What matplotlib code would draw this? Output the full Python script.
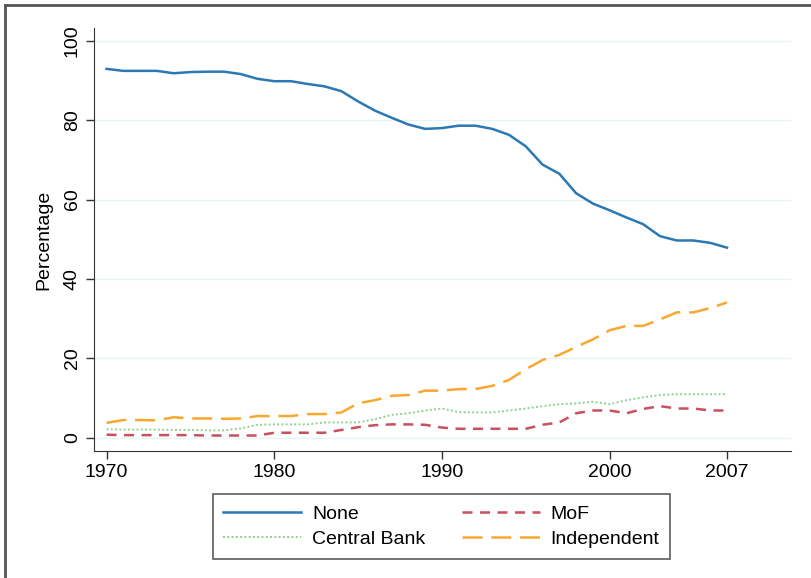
import numpy as np
import matplotlib.pyplot as plt
from matplotlib.lines import Line2D

# Datos (porcentaje por año)
years = np.arange(1970, 2008)
none_vals = [92.9, 92.4, 92.4, 92.4, 91.8, 92.1, 92.2, 92.2, 91.6, 90.4,
             89.8, 89.8, 89.1, 88.5, 87.3, 84.7, 82.4, 80.6, 78.9, 77.8,
             78.0, 78.6, 78.6, 77.8, 76.3, 73.4, 68.8, 66.5, 61.6, 59.0,
             57.3, 55.5, 53.8, 50.8, 49.7, 49.7, 49.1, 47.9]
mof_vals = [0.8, 0.7, 0.7, 0.7, 0.7, 0.7, 0.6, 0.6, 0.6, 0.6,
            1.3, 1.3, 1.3, 1.3, 2.0, 2.7, 3.2, 3.4, 3.4, 3.3,
            2.6, 2.3, 2.3, 2.3, 2.3, 2.3, 3.3, 3.9, 6.2, 6.9,
            6.9, 6.2, 7.3, 8.0, 7.4, 7.4, 6.9, 6.9]
cb_vals = [2.2, 2.1, 2.1, 2.1, 2.0, 2.0, 1.9, 1.9, 2.4, 3.3,
           3.4, 3.4, 3.4, 3.9, 3.9, 3.9, 4.7, 5.8, 6.2, 6.9,
           7.4, 6.5, 6.4, 6.4, 6.9, 7.4, 8.0, 8.5, 8.7, 9.1,
           8.5, 9.5, 10.2, 10.8, 11.0, 11.0, 11.0, 11.0]
indep_vals = [3.8, 4.5, 4.5, 4.4, 5.2, 4.9, 4.9, 4.8, 4.9, 5.5,
              5.5, 5.5, 6.0, 6.0, 6.4, 8.7, 9.5, 10.6, 10.8, 11.9,
              11.9, 12.3, 12.3, 13.1, 14.6, 17.3, 19.6, 20.9, 22.9, 24.8,
              27.1, 28.2, 28.2, 29.8, 31.6, 31.6, 32.7, 34.1]
xticks = [1970, 1980, 1990, 2000, 2007]
yticks = [0, 20, 40, 60, 80, 100]

plt.rcParams['font.family'] = ['Liberation Sans', 'DejaVu Sans']

fig = plt.figure(figsize=(8.11, 5.78), dpi=100)
ax = fig.add_axes([0.1159, 0.2197, 0.975 - 0.1159, 0.9516 - 0.2197])

l1, = ax.plot(years, none_vals, color='#2a78b4', lw=1.8, label='None')
l2, = ax.plot(years, cb_vals, color='#90d090', lw=1.4, linestyle=(0, (1, 1.2)), label='Central Bank')
l3, = ax.plot(years, mof_vals, color='#c8505f', lw=1.8, linestyle=(0, (4, 3)), label='MoF')
l4, = ax.plot(years, indep_vals, color='#f8a830', lw=1.8, linestyle=(0, (8, 3.5)), label='Independent')

ax.set_xlim(1969.25, 2010.8)
ax.set_ylim(-3.3, 103.2)
ax.set_xticks(xticks)
ax.set_yticks(yticks)
ax.tick_params(axis='both', labelsize=14, length=6, width=1, color='#333333', direction='out')
for lab in ax.get_yticklabels():
    lab.set_rotation(90)
    lab.set_va('center')
ax.set_ylabel('Percentage', fontsize=14, labelpad=8)

for y in yticks:
    ax.axhline(y, color='#e6f4f8', lw=1, zorder=0)
ax.spines['top'].set_visible(False)
ax.spines['right'].set_visible(False)
ax.spines['left'].set_color('#333333')
ax.spines['bottom'].set_color('#333333')

leg = fig.legend(handles=[l1, l2, l3, l4], ncol=2, loc='center',
                 bbox_to_anchor=(441.5 / 811, 1 - 526.5 / 578),
                 fontsize=14, frameon=True, fancybox=False,
                 handlelength=4.0, handletextpad=0.55, columnspacing=1.9,
                 labelspacing=0.4, borderpad=0.55)
leg.get_frame().set_edgecolor('#333333')
leg.get_frame().set_linewidth(1.2)

# marco exterior (solo arriba e izquierda visibles)
fig.add_artist(Line2D([5 / 811, 5 / 811], [0, 1 - 5 / 578], transform=fig.transFigure, color='#555555', lw=2))
fig.add_artist(Line2D([5 / 811, 1], [1 - 5 / 578, 1 - 5 / 578], transform=fig.transFigure, color='#555555', lw=2))

fig.savefig('out.png', dpi=100)
